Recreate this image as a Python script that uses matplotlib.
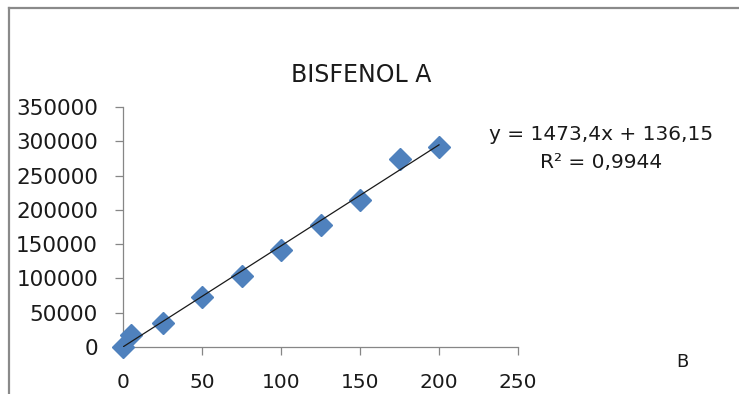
import matplotlib
matplotlib.use("Agg")
import matplotlib.pyplot as plt
from matplotlib.lines import Line2D
import numpy as np

# Curva de calibración - concentraciones y áreas de pico
concentracion = [0, 5, 25, 50, 75, 100, 125, 150, 175, 200]
area = [0, 17500, 35000, 73000, 103500, 141000, 178000, 214000, 274000, 292000]

pendiente = 1473.4
intercepto = 136.15
r2 = 0.9944

x_ticks = [0, 50, 100, 150, 200, 250]
y_ticks = [0, 50000, 100000, 150000, 200000, 250000, 300000, 350000]

plt.rcParams['font.family'] = ['DejaVu Sans']

fig = plt.figure(figsize=(7.39, 3.94), dpi=100)
W, H = 739, 394
ax = fig.add_axes([123 / W, (H - 347) / H, 395 / W, 240 / H])

azul = '#4F81BD'
ax.plot(concentracion, area, linestyle='none', marker='D', markersize=11,
        markerfacecolor=azul, markeredgecolor=azul, zorder=3, clip_on=False)

# Línea de tendencia lineal
xt = np.array([0, 200])
ax.plot(xt, pendiente * xt + intercepto, color='#1a1a1a', linewidth=0.9, zorder=4)

ax.set_xlim(0, 250)
ax.set_ylim(0, 350000)
ax.set_xticks(x_ticks)
ax.set_yticks(y_ticks)
ax.set_xticklabels([str(v) for v in x_ticks])
ax.set_yticklabels([str(v) for v in y_ticks])

for s in ['top', 'right']:
    ax.spines[s].set_visible(False)
for s in ['left', 'bottom']:
    ax.spines[s].set_color('#868686')
    ax.spines[s].set_linewidth(0.9)
ax.tick_params(axis='both', direction='out', color='#868686', width=0.9,
               length=6, labelcolor='#1a1a1a')
ax.tick_params(axis='y', pad=12, labelsize=15.5)
ax.tick_params(axis='x', pad=13, labelsize=14.5)

fig.text(361 / W, 1 - 75 / H, 'BISFENOL A', ha='center', va='center',
         fontsize=17, color='#1a1a1a')
fig.text(601 / W, 1 - 135 / H, 'y = 1473,4x + 136,15', ha='center',
         va='center', fontsize=14.5, color='#1a1a1a')
fig.text(601 / W, 1 - 162 / H, 'R² = 0,9944', ha='center',
         va='center', fontsize=14.5, color='#1a1a1a')
fig.text(682 / W, 1 - 362 / H, 'B', ha='center', va='center',
         fontsize=13, color='#1a1a1a')

# Marco gris superior e izquierdo
fig.add_artist(Line2D([9 / W, 1], [1 - 8 / H, 1 - 8 / H],
                      transform=fig.transFigure, color='#8a8a8a', linewidth=1.6))
fig.add_artist(Line2D([9 / W, 9 / W], [0, 1 - 8 / H],
                      transform=fig.transFigure, color='#8a8a8a', linewidth=1.6))

fig.savefig('out.png', dpi=100)
